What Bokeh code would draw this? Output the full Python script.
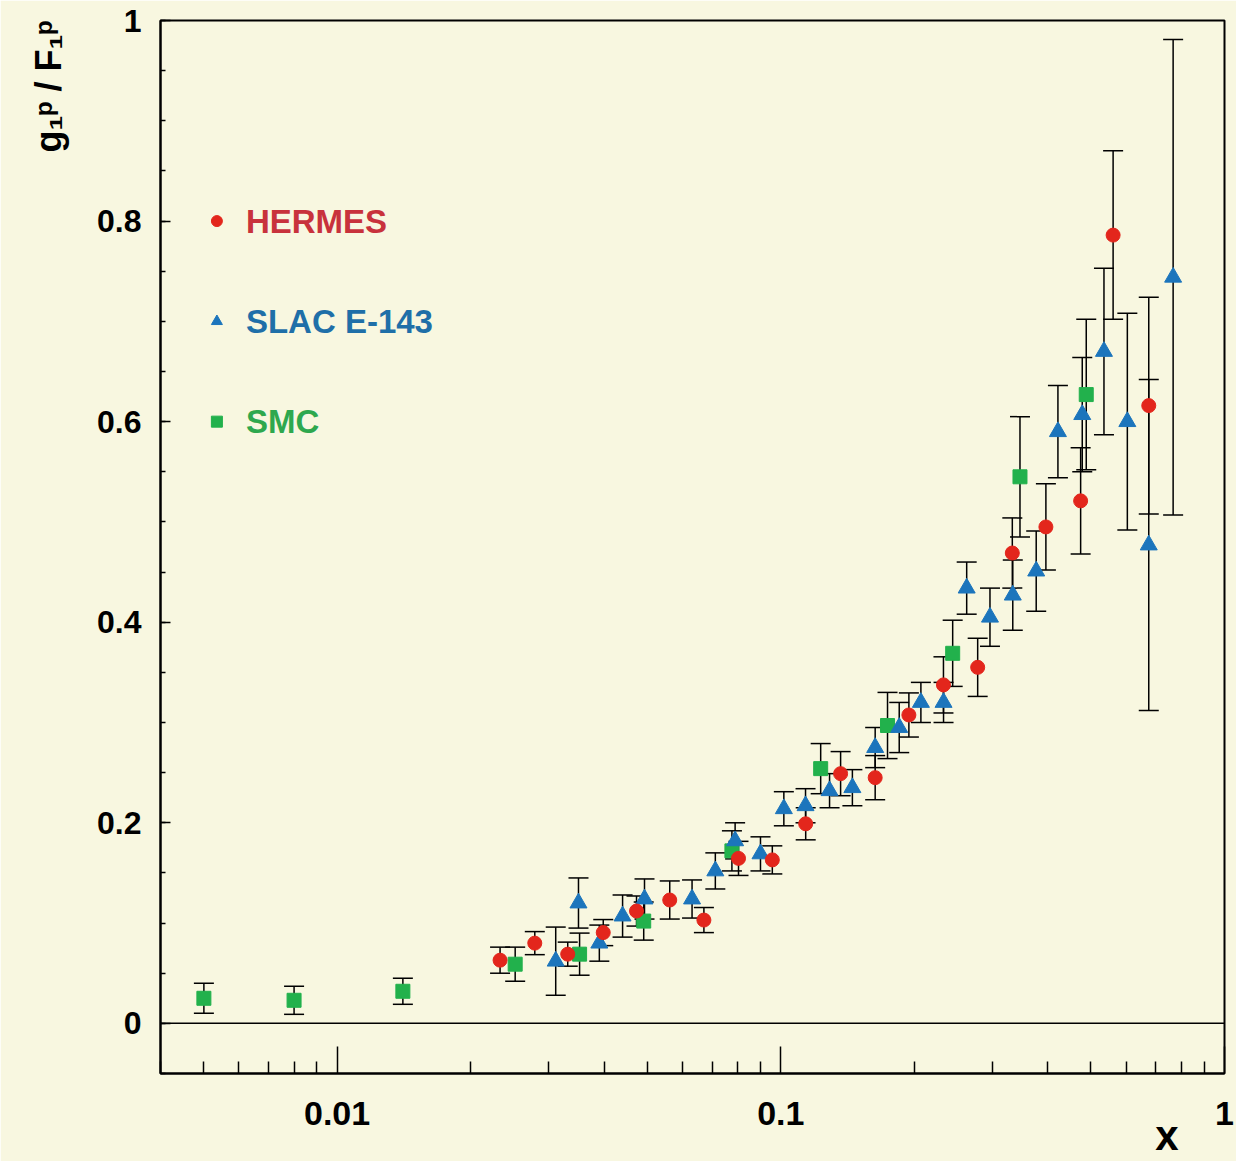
from bokeh.plotting import figure
from bokeh.models import (ColumnDataSource, Whisker, TeeHead, Span, FixedTicker,
                          CustomJSTickFormatter, Title)
from bokeh.embed import file_html
from bokeh.resources import INLINE
from bokeh.core.properties import value

# ---------------- data ----------------
hermes_x = [0.0233, 0.0279, 0.0331, 0.0398, 0.0473, 0.0562, 0.0671, 0.0803, 0.0957, 0.1138,
            0.1364, 0.1632, 0.1944, 0.2326, 0.2778, 0.3325, 0.3958, 0.474, 0.561, 0.675]
hermes_y = [0.063, 0.080, 0.069, 0.0905, 0.112, 0.123, 0.103, 0.1645, 0.163, 0.199,
            0.249, 0.245, 0.3075, 0.3375, 0.355, 0.469, 0.495, 0.521, 0.786, 0.616]
hermes_err = [0.013, 0.0115, 0.012, 0.013, 0.015, 0.019, 0.0125, 0.017, 0.014, 0.016,
              0.022, 0.022, 0.022, 0.028, 0.029, 0.035, 0.043, 0.053, 0.084, 0.108]

slac_x = [0.0311, 0.0350, 0.0390, 0.0440, 0.0493, 0.0631, 0.0712, 0.0789, 0.0900, 0.1016,
          0.1137, 0.1288, 0.145, 0.1632, 0.1849, 0.2069, 0.2327, 0.2624, 0.2961, 0.3333,
          0.3764, 0.4213, 0.478, 0.535, 0.604, 0.675, 0.766]
slac_y = [0.062, 0.120, 0.080, 0.107, 0.124, 0.124, 0.152, 0.182, 0.169, 0.214,
          0.217, 0.232, 0.235, 0.275, 0.295, 0.320, 0.320, 0.434, 0.405, 0.427,
          0.451, 0.590, 0.607, 0.670, 0.600, 0.477, 0.744]
slac_err = [0.034, 0.025, 0.018, 0.021, 0.020, 0.019, 0.018, 0.018, 0.017, 0.017,
            0.017, 0.017, 0.018, 0.020, 0.025, 0.020, 0.020, 0.026, 0.029, 0.035,
            0.040, 0.046, 0.057, 0.083, 0.108, 0.165, 0.237]

smc_x = [0.00501, 0.0080, 0.01407, 0.0252, 0.0352, 0.0491, 0.0776, 0.123, 0.174, 0.244, 0.346, 0.488]
smc_y = [0.025, 0.023, 0.032, 0.059, 0.069, 0.102, 0.172, 0.254, 0.297, 0.369, 0.545, 0.627]
smc_err = [0.015, 0.014, 0.013, 0.017, 0.021, 0.019, 0.020, 0.025, 0.033, 0.033, 0.060, 0.075]

series_names = ["HERMES", "SLAC E-143", "SMC"]
x_major = [0.01, 0.1, 1.0]
y_major = [0, 0.2, 0.4, 0.6, 0.8, 1.0]

# ---------------- styling ----------------
BG = "#f8f7e0"
RED, BLUE, GREEN = "#e3261c", "#1c75bc", "#22b14c"
RED_T, BLUE_T, GREEN_T = "#c8323c", "#1f6fa8", "#2ea84e"
FONT = "Liberation Sans"

p = figure(x_axis_type="log", x_range=(0.004, 1.0), y_range=(-0.05, 1.0),
           frame_width=1064, frame_height=1053,
           min_border_left=160, min_border_top=20, min_border_right=12, min_border_bottom=88,
           output_backend="svg", toolbar_location=None,
           background_fill_color=BG, border_fill_color=BG)
p.xgrid.visible = False
p.ygrid.visible = False
p.outline_line_color = "black"
p.outline_line_width = 2

# ticks
x_minor = [m * 10.0 ** e for e in (-3, -2, -1) for m in range(2, 10) if m * 10.0 ** e >= 0.004]
p.xaxis.ticker = FixedTicker(ticks=x_major, minor_ticks=x_minor)
y_minor = [round(i * 0.05, 2) for i in range(-1, 21)]
p.yaxis.ticker = FixedTicker(ticks=y_major, minor_ticks=y_minor)
fmt = CustomJSTickFormatter(code="return String(parseFloat(tick.toPrecision(6)));")
p.xaxis.formatter = fmt
p.yaxis.formatter = fmt

for ax in (p.xaxis[0], p.yaxis[0]):
    ax.axis_line_color = "black"
    ax.axis_line_width = 2
    ax.major_tick_line_color = "black"
    ax.minor_tick_line_color = "black"
    ax.major_tick_line_width = 1.5
    ax.minor_tick_line_width = 1.5
    ax.major_tick_out = 0
    ax.minor_tick_out = 0
    ax.major_label_text_font = FONT
    ax.major_label_text_font_style = "bold"
    ax.major_label_text_color = "black"

p.xaxis.major_tick_in = 27
p.xaxis.minor_tick_in = 12
p.xaxis.major_label_text_font_size = "34px"
p.xaxis.major_label_standoff = 28
p.yaxis.major_tick_in = 10
p.yaxis.minor_tick_in = 5
p.yaxis.major_label_text_font_size = "32px"
p.yaxis.major_label_standoff = 19

# axis titles
ytitle = Title(text="g\u2081\u1d56 / F\u2081\u1d56", align="right", text_font=FONT,
               text_font_style="bold", text_font_size="36px", text_color="black", standoff=51)
p.add_layout(ytitle, "left")
xtitle = Title(text="x", align="right", text_font=FONT, text_font_style="bold",
               text_font_size="42px", text_color="black", offset=46, standoff=-36)
p.add_layout(xtitle, "below")

# zero line
p.add_layout(Span(location=0, dimension="width", line_color="black", line_width=1.5))

# ---------------- error bars + markers ----------------
def add_series(xs, ys, es, color, marker, size):
    src = ColumnDataSource(dict(x=xs, y=ys,
                                lo=[y - e for y, e in zip(ys, es)],
                                hi=[y + e for y, e in zip(ys, es)]))
    w = Whisker(source=src, base="x", lower="lo", upper="hi", dimension="height",
                line_color="black", line_width=1.5,
                lower_head=TeeHead(size=20, line_color="black", line_width=1.5),
                upper_head=TeeHead(size=20, line_color="black", line_width=1.5))
    p.add_layout(w)
    return src, color, marker, size

series = [
    add_series(smc_x, smc_y, smc_err, GREEN, "square", 14),
    add_series(slac_x, slac_y, slac_err, BLUE, "triangle", 17),
    add_series(hermes_x, hermes_y, hermes_err, RED, "circle", 14),
]
for src, color, marker, size in series:
    p.scatter("x", "y", source=src, marker=marker, size=size,
              fill_color=color, line_color=color)

# ---------------- legend (text in the plot) ----------------
leg_marker_x = 0.00536
leg_text_x = 0.00623
leg_y = [0.8, 0.7, 0.6]
leg_markers = ["circle", "triangle", "square"]
leg_colors = [RED, BLUE, GREEN]
leg_text_colors = [RED_T, BLUE_T, GREEN_T]
for name, yy, mk, c, tc in zip(series_names, leg_y, leg_markers, leg_colors, leg_text_colors):
    p.scatter([leg_marker_x], [yy], marker=mk, size=11, fill_color=c, line_color=c)
    p.text([leg_text_x], [yy], text=[name], text_font=value(FONT), text_font_style="bold",
           text_font_size="33px", text_color=tc, text_baseline="middle", text_align="left")

open("out.html", "w").write(file_html(p, INLINE))
